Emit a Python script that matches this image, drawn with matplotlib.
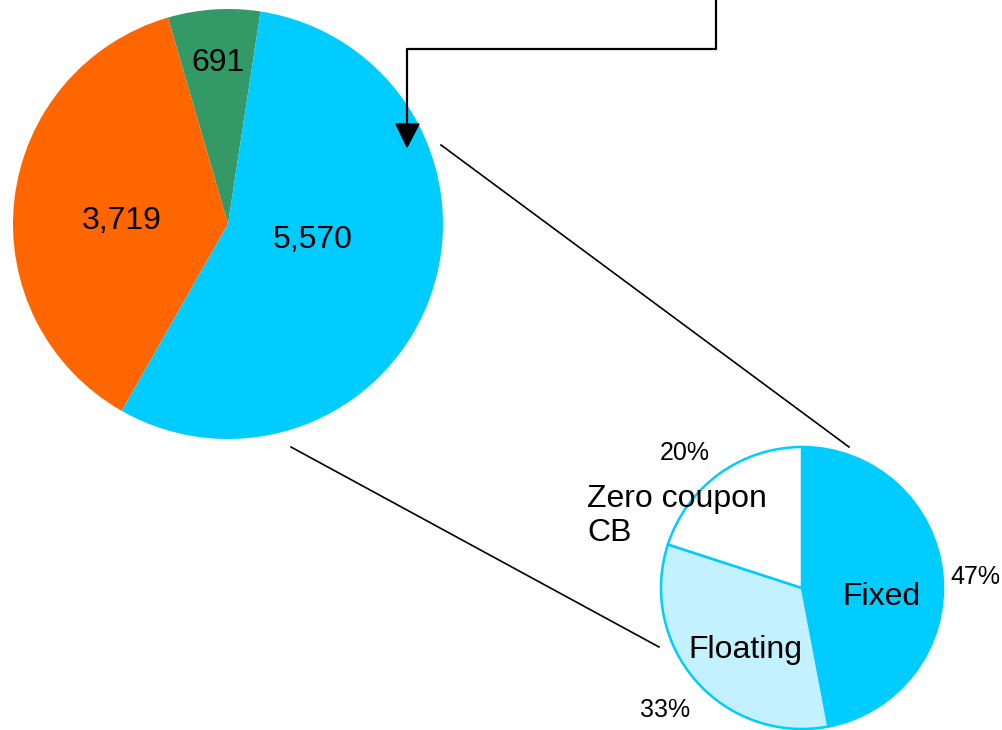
import matplotlib.pyplot as plt
from matplotlib.patches import Polygon

plt.rcParams['font.family'] = ['Liberation Sans', 'DejaVu Sans']

# main pie
main_values = [691, 3719, 5570]
main_labels = ['691', '3,719', '5,570']
main_colors = ['#339966', '#FF6600', '#00CCFF']

# split of the cyan slice
sub_names = ['Fixed', 'Floating', 'Zero coupon\nCB']
sub_shares = [47, 33, 20]
sub_colors = ['#00CCFF', '#C4F1FF', '#FFFFFF']

W, H = 1002, 730
fig = plt.figure(figsize=(W / 100, H / 100), dpi=100)
ax = fig.add_axes([0, 0, 1, 1])


def px(x, y):
    # picture pixels (y down) -> axes units (y up)
    return (x, H - y)


ax.pie(main_values, colors=main_colors, startangle=81.3, counterclock=True,
       center=px(228, 224), radius=215, wedgeprops=dict(linewidth=0))
main_pos = [(218, 63), (122, 221), (313, 240)]
for lab, p in zip(main_labels, main_pos):
    ax.text(*px(*p), lab, fontsize=23, ha='center', va='center')

ax.pie(sub_shares, colors=sub_colors, startangle=90, counterclock=False,
       center=px(802, 588), radius=141,
       wedgeprops=dict(linewidth=1.8, edgecolor='#00CCFF'))

ax.text(*px(881, 597), sub_names[0], fontsize=23, ha='center', va='center')
ax.text(*px(745, 650), sub_names[1], fontsize=23, ha='center', va='center')
ax.text(*px(587, 516), sub_names[2], fontsize=23, ha='left', va='center',
        linespacing=1.2)

pct_pos = [(975, 577), (665, 710), (685, 453)]
for v, p in zip(sub_shares, pct_pos):
    ax.text(*px(*p), f'{v}%', fontsize=18, ha='center', va='center')

# connectors between the pies
for a, b in [((441, 145), (849, 447)), ((291, 447), (659, 647))]:
    ax.plot(*zip(px(*a), px(*b)), color='black', lw=1.2)

# arrow coming in from the top
path = [(716, -2), (716, 49), (407, 49), (407, 126)]
ax.plot(*zip(*[px(*p) for p in path]), color='black', lw=1.6)
ax.add_patch(Polygon([px(396, 124), px(419, 124), px(407, 147)],
                     closed=True, color='black'))

ax.set_xlim(0, W)
ax.set_ylim(0, H)
ax.axis('off')

plt.savefig('out.png', dpi=100)
plt.close()
